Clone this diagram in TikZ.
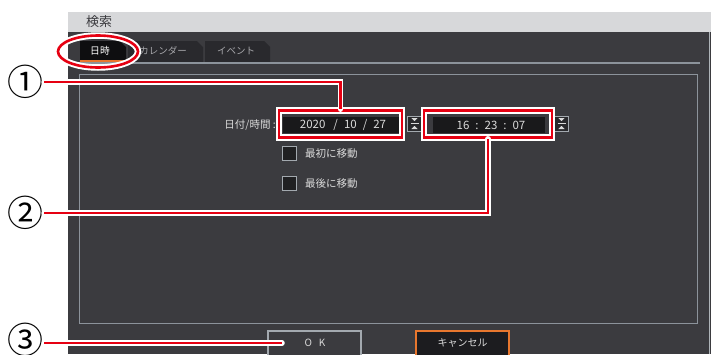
\documentclass[tikz,border=0pt]{standalone}
\usepackage{fontspec}
\newfontfamily\jp{Noto Sans CJK JP}
\usetikzlibrary{shapes.geometric}
\definecolor{panel}{HTML}{3B3B3F}
\definecolor{titlebar}{HTML}{D7D8DA}
\definecolor{titletext}{HTML}{3A3A3E}
\definecolor{tabdark}{HTML}{29292D}
\definecolor{tabactive}{HTML}{0E0E10}
\definecolor{linegray}{HTML}{8C939B}
\definecolor{fieldbg}{HTML}{19191B}
\definecolor{uitext}{HTML}{DADADA}
\definecolor{dimtext}{HTML}{A8A8AC}
\definecolor{hlred}{HTML}{E60012}
\definecolor{orangeui}{HTML}{E8772E}
\tikzset{
  uifont/.style={font=\jp\fontsize{#1}{#1}\selectfont},
  field/.style={fill=fieldbg, text=uitext, uifont=11.5, inner sep=0pt, minimum height=16, anchor=center},
  hlbox/.style={draw=hlred, line width=2.6, preaction={draw=white, line width=6.5}, inner sep=0pt, minimum height=27},
  callout/.style={draw=hlred, line width=2.2, preaction={draw=white, line width=5.5, line cap=round}},
  cnum/.style={uifont=36, inner sep=0pt, text=black},
  chk/.style={draw=linegray!80, fill=fieldbg!80!panel, line width=1, minimum width=14, minimum height=14, inner sep=0pt},
  spin/.style={draw=linegray!80, fill=panel!70!black, line width=0.8, minimum width=14, minimum height=15, inner sep=0pt},
  lbl/.style={text=uitext, uifont=10.5, anchor=west, inner sep=0pt},
}
\begin{document}
\begin{tikzpicture}[x=1pt,y=-1pt]
\useasboundingbox (0,0) rectangle (711,354);
\fill[white] (0,0) rectangle (711,354);
% window
\fill[panel] (68,12) rectangle (711,354);
\fill[titlebar] (68,12) rectangle (711,32);
\draw[linegray!70, line width=1] (709.5,32) -- (709.5,354);
\node[anchor=west, uifont=13, text=titletext, inner sep=0pt] (title) at (86,22) {検索};
% tabs
\fill[tabdark] (128,62) -- (128,41) -- (197,41) -- (203,47) -- (203,62) -- cycle;
\fill[tabdark] (205,62) -- (205,41) -- (264,41) -- (270,47) -- (270,62) -- cycle;
\fill[tabactive] (80,62) -- (80,41) -- (120,41) -- (126,47) -- (126,62) -- cycle;
\fill[orangeui] (80,59.5) rectangle (126,62);
\node[uifont=9.8, text=white, inner sep=0pt] (tab1) at (100,51) {日時};
\node[uifont=9.5, text=dimtext, inner sep=0pt] (tab2) at (163,51) {カレンダー};
\node[uifont=9.5, text=dimtext, inner sep=0pt] (tab3) at (236,51) {イベント};
\draw[linegray, line width=1.2] (72,63) -- (700,63);
\draw[linegray, line width=1] (79,74) rectangle (697,323);
% row
\node[text=uitext, uifont=10.5, anchor=east, inner sep=0pt] (dtlabel) at (276,125) {日付/時間 :};
\node[field, minimum width=116] (date) at (341,125) {\hspace*{4pt}2020\hspace{8pt}/\hspace{6pt}10\hspace{6pt}/\hspace{6pt}27};
\node[field, minimum width=112] (time) at (489,125) {\hspace*{4pt}16\hspace{6pt}:\hspace{6pt}23\hspace{6pt}:\hspace{6pt}07};
\node[spin] (spin1) at (414.5,123.5) {};
\node[spin] (spin2) at (561.5,123.5) {};
\foreach \s in {spin1,spin2}{
  \fill[uitext] ([yshift=-4.5]\s.center) +(-3.2,1) -- +(3.2,1) -- +(0,-2) -- cycle;
  \fill[uitext] ([yshift=4.5]\s.center) +(-3.2,-1) -- +(3.2,-1) -- +(0,2) -- cycle;
  \draw[uitext, line width=0.8] ([xshift=-4]\s.center) -- ([xshift=4]\s.center);
}
% checkboxes
\node[chk] (chk1) at (289.5,153.5) {};
\node[lbl] (chkt1) at (305,154) {最初に移動};
\node[chk] (chk2) at (289.5,183.5) {};
\node[lbl] (chkt2) at (305,184) {最後に移動};
% buttons
\draw[linegray!80, line width=1.2, fill=panel] (268,331) rectangle (361,356);
\node[uifont=10, text=uitext, inner sep=0pt] (ok) at (315,343) {O\hspace{7pt}K};
\draw[orangeui, line width=1.2, fill=fieldbg!90!panel] (416,331) rectangle (509,356);
\node[uifont=10, text=uitext, inner sep=0pt] (cancel) at (462.5,343) {キャンセル};
% highlights
\node[hlbox, minimum width=123] (dateH) at (340.5,124) {};
\node[hlbox, minimum width=128] (timeH) at (488,124) {};
\node[ellipse, draw=hlred, line width=2.6, preaction={draw=white, line width=6.5}, minimum width=80, minimum height=32, inner sep=0pt] (tabH) at (98,51.5) {};
% callout numbers
\node[cnum] (c1) at (26,82) {①};
\node[cnum] (c2) at (26,213) {②};
\node[cnum] (c3) at (26,340) {③};
\coordinate (okpt) at (282,343);
\draw[callout] (c1.east) -| (dateH.north);
\draw[callout] (c2.east) -| (timeH.south);
\draw[callout] (c3.east |- okpt) -- (okpt);
\end{tikzpicture}
\end{document}
